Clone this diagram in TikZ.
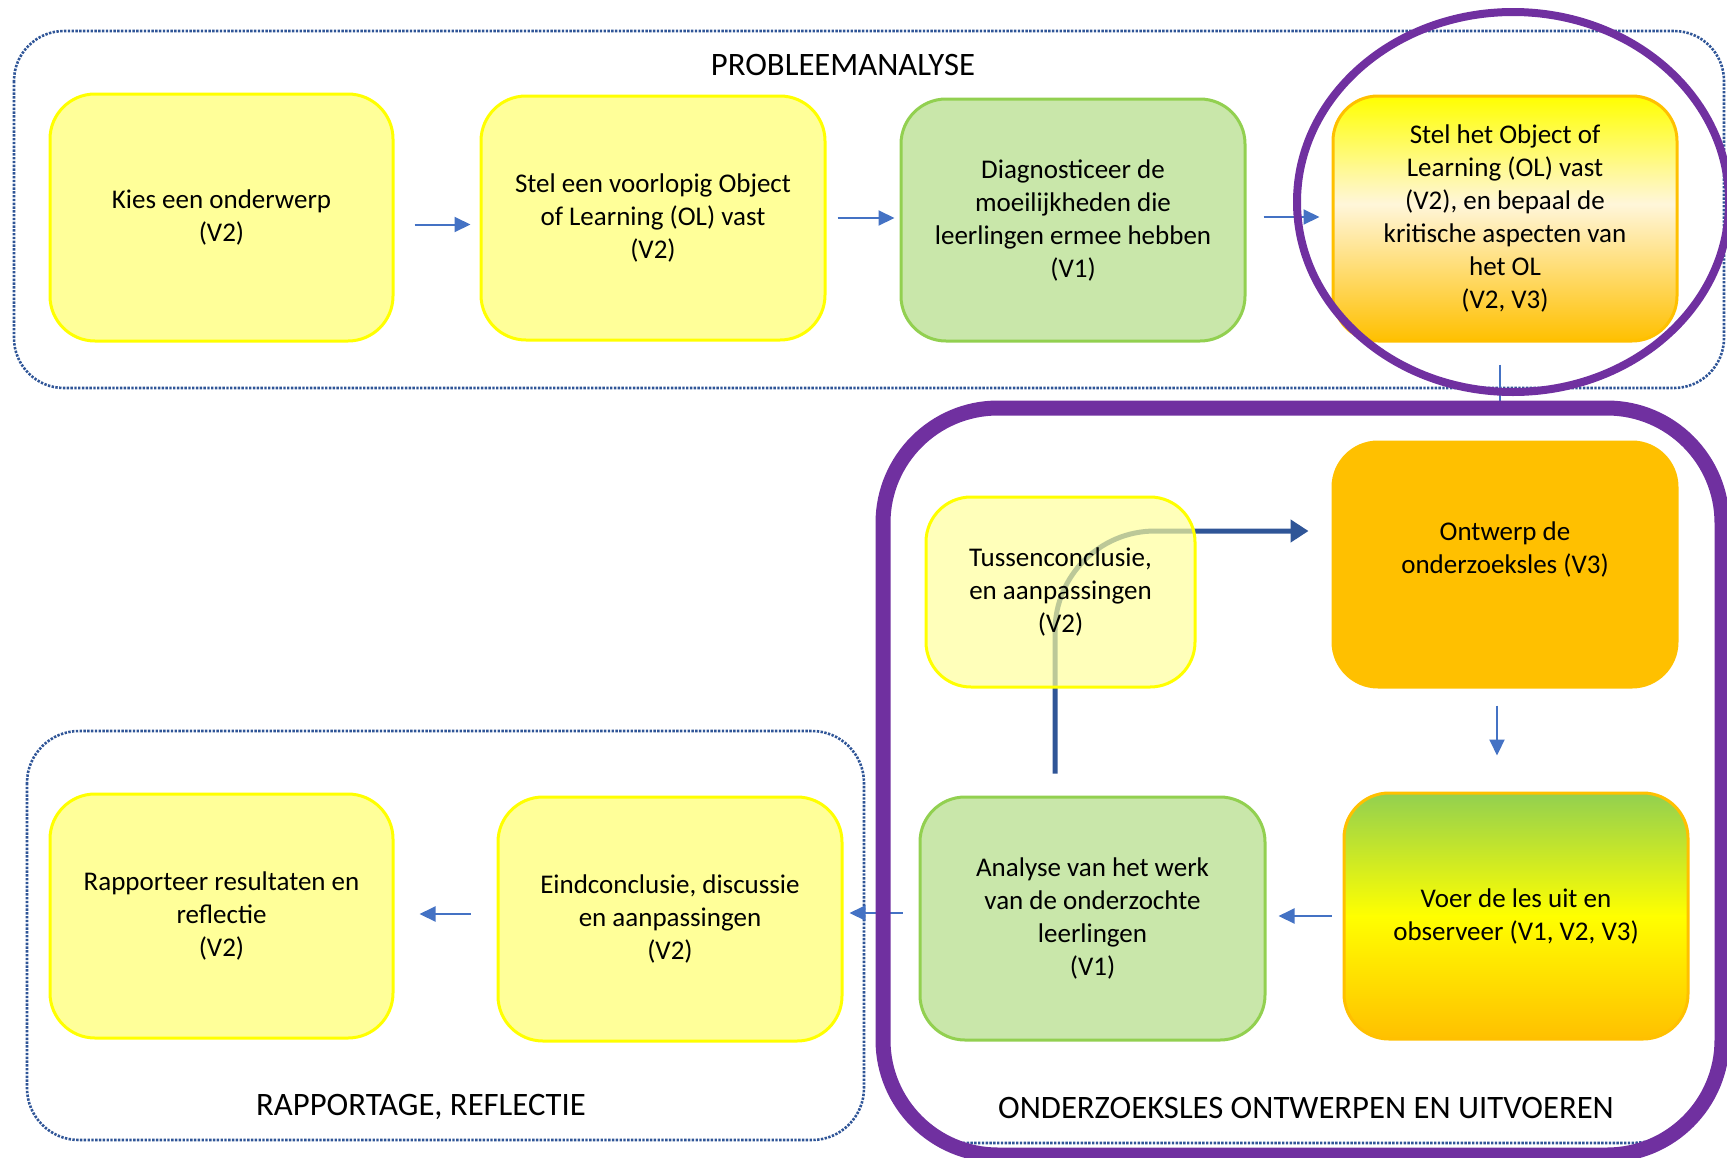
\documentclass[tikz,border=0pt]{standalone}
\usepackage{fontspec}
\setmainfont{Carlito}
\usetikzlibrary{arrows.meta}

\definecolor{pale}{HTML}{FFFF99}
\definecolor{yel}{HTML}{FFFF00}
\definecolor{leaf}{HTML}{C9E7AA}
\definecolor{leafline}{HTML}{92D050}
\definecolor{gold}{HTML}{FFC000}
\definecolor{cream}{HTML}{FFF6DA}
\definecolor{ringpurple}{HTML}{7030A0}
\definecolor{dotblue}{HTML}{2F5597}
\definecolor{arrblue}{HTML}{4472C4}
\definecolor{looparrow}{HTML}{2F5597}

% yellow -> cream -> gold, top to bottom (box spans 25bp..75bp)
\pgfdeclareverticalshading{olshade}{100bp}{color(0bp)=(gold); color(25bp)=(gold); color(53bp)=(cream); color(75bp)=(yel); color(100bp)=(yel)}
% green -> yellow -> gold, top to bottom
\pgfdeclareverticalshading{lesshade}{100bp}{color(0bp)=(gold); color(25bp)=(gold); color(50bp)=(yel); color(75bp)=(leafline); color(100bp)=(leafline)}

\newcommand\boxfont{\fontsize{27}{33}\selectfont}
\newcommand\headfont{\fontsize{32.7}{38}\selectfont}

\tikzset{
  stepbox/.style={rectangle, rounded corners=45pt, line width=3pt, align=center, inner sep=0pt, font=\boxfont},
  paleb/.style={stepbox, fill=pale, draw=yel},
  leafb/.style={stepbox, fill=leaf, draw=leafline},
  frame/.style={draw=dotblue, line width=2.6pt, dash pattern=on 2.4pt off 1.4pt, rounded corners=50pt},
  arr/.style={draw=arrblue, line width=2pt, -{Triangle[length=16pt, width=15pt]}},
  plainlink/.style={draw=arrblue, line width=1.6pt},
  looparr/.style={draw=looparrow, line width=5pt, -{Triangle[length=18pt, width=22pt]}},
  ring/.style={draw=ringpurple},
  heading/.style={font=\headfont, inner sep=0pt}
}

\begin{document}
\begin{tikzpicture}[x=1pt, y=-1pt]
\useasboundingbox (0,0) rectangle (1727,1157);
\clip (0,0) rectangle (1727,1157);

% section frames
\draw[frame] (14,31) rectangle (1724,388);
\draw[frame, rounded corners=52pt] (27,731) rectangle (864,1140);
\draw[frame, rounded corners=97pt] (940,1143) -| (1727,1000);

% section headings
\node[heading] (hprob) at (843,65) {PROBLEEMANALYSE};
\node[heading] (hrap) at (421,1107) {RAPPORTAGE, REFLECTIE};
\node[heading] (hond) at (1306,1108) {ONDERZOEKSLES ONTWERPEN EN UITVOEREN};

% problem analysis row
\node[paleb, minimum width=343pt, minimum height=247pt] (kies) at (221.5,217.5)
  {Kies een onderwerp\\(V2)};
\node[paleb, minimum width=344pt, minimum height=244pt] (voorlopig) at (653,218)
  {Stel een voorlopig Object\\of Learning (OL) vast\\(V2)};
\node[leafb, minimum width=344pt, minimum height=242pt] (diag) at (1073,220)
  {Diagnosticeer de\\moeilijkheden die\\leerlingen ermee hebben\\(V1)};
\node[stepbox, draw=gold, shade, shading=olshade, minimum width=344pt, minimum height=245pt] (olvast) at (1505,218.5)
  {Stel het Object of\\Learning (OL) vast\\(V2), en bepaal de\\kritische aspecten van\\het OL\\(V2, V3)};

% research lesson cycle
\node[stepbox, fill=gold, draw=gold, minimum width=344pt, minimum height=245pt] (ontwerp) at (1505,564.5)
  {Ontwerp de\\onderzoeksles (V3)\\\mbox{}};
\node[stepbox, draw=gold, shade, shading=lesshade, minimum width=344pt, minimum height=246pt] (voer) at (1516,916)
  {Voer de les uit en\\observeer (V1, V2, V3)};
\node[leafb, minimum width=345pt, minimum height=243pt] (analyse) at (1092.5,918.5)
  {Analyse van het werk\\van de onderzochte\\leerlingen\\(V1)};

% reporting row
\node[paleb, minimum width=343pt, minimum height=244pt] (rapport) at (221.5,916)
  {Rapporteer resultaten en\\reflectie\\(V2)};
\node[paleb, minimum width=344pt, minimum height=244pt] (eind) at (670,919)
  {Eindconclusie, discussie\\en aanpassingen\\(V2)};

% feedback loop, seen through the intermediate box
\draw[looparr, rounded corners=100pt, shorten <=22pt, shorten >=23pt]
  ([xshift=-37.5pt]analyse.north) |- ([yshift=33.5pt]ontwerp.west);
\node[paleb, fill opacity=0.68, text opacity=1, minimum width=269pt, minimum height=190pt] (tussen) at (1060.5,592)
  {Tussenconclusie,\\en aanpassingen\\(V2)};

% thin connectors
\coordinate (a1s) at ([yshift=-7pt]kies.east);
\draw[arr, shorten <=20pt, shorten >=9pt] (a1s) -- (a1s -| voorlopig.west);
\draw[arr, shorten <=11pt, shorten >=5pt] (voorlopig.east) -- (voorlopig.east -| diag.west);
\coordinate (a3s) at ([yshift=3pt]diag.east);
\draw[arr, shorten <=17pt, shorten >=12pt] (a3s) -- (a3s -| olvast.west);
\coordinate (a4s) at ([xshift=-5pt]olvast.south);
\draw[plainlink, shorten <=22pt, shorten >=26pt] (a4s) -- (a4s |- ontwerp.north);
\coordinate (a5s) at ([xshift=-8pt]ontwerp.south);
\draw[arr, shorten <=17pt, shorten >=36pt] (a5s) -- (a5s |- voer.north);
\draw[arr, shorten <=11pt, shorten >=12pt] (voer.west) -- (voer.west -| analyse.east);
\coordinate (a7s) at ([yshift=5.5pt]analyse.west);
\draw[arr, shorten <=16pt, shorten >=6pt] (a7s) -- (a7s -| eind.east);
\coordinate (a8s) at ([yshift=5pt]eind.west);
\draw[arr, shorten <=26pt, shorten >=25pt] (a8s) -- (a8s -| rapport.east);

% purple highlights
\draw[ring, line width=8pt] (1513,202) ellipse [x radius=216, y radius=190];
\draw[ring, line width=15pt, rounded corners=115pt] (883,408) rectangle (1722,1155);
\end{tikzpicture}
\end{document}
